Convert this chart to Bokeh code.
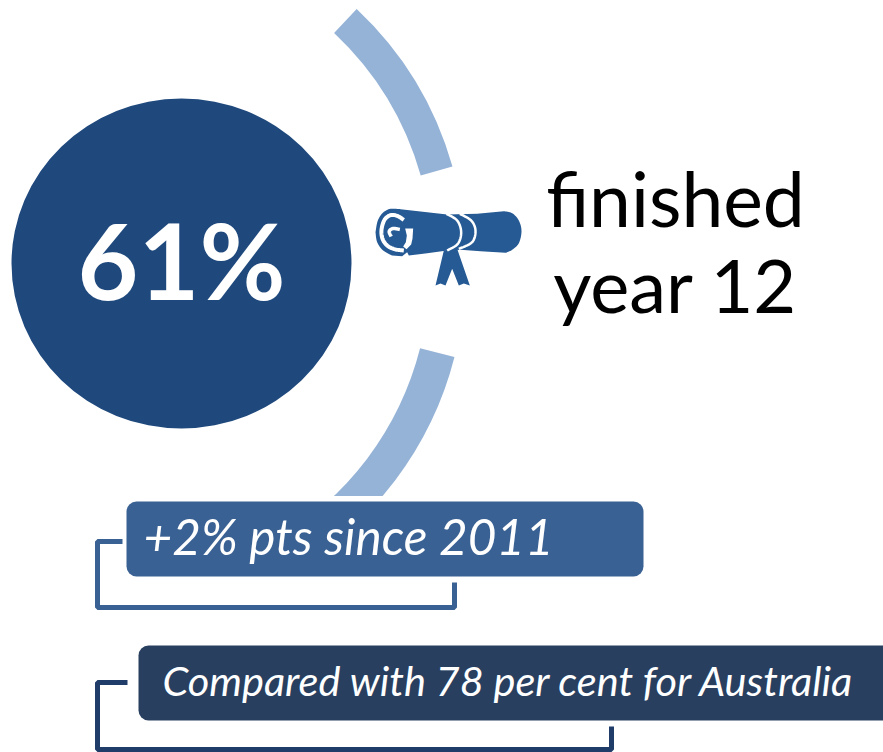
from bokeh.plotting import figure
from bokeh.models import Range1d
from bokeh.core.properties import value
from bokeh.embed import file_html
from bokeh.resources import INLINE
import math

share_label = "61%"
headline = ["finished", "year 12"]
note_labels = ["+2% pts since 2011", "Compared with 78 per cent for Australia"]

NAVY = "#1f497d"; ARC = "#95b3d7"; ICON = "#255a94"; BOX1 = "#3a6193"; BOX2 = "#283f60"; LINE2 = "#1f3d68"

p = figure(width=883, height=752, output_backend="svg", toolbar_location=None,
           x_range=Range1d(0, 883), y_range=Range1d(752, 0), min_border=0, outline_line_color=None)
p.xaxis.visible = False
p.yaxis.visible = False
p.grid.visible = False

p.annular_wedge(x=[120], y=[260], inner_radius=312, outer_radius=345,
                start_angle=[math.radians(15.8)], end_angle=[math.radians(46.8)],
                fill_color=ARC, line_color=None)
p.annular_wedge(x=[120], y=[272], inner_radius=309, outer_radius=344.5,
                start_angle=[math.radians(-60)], end_angle=[math.radians(-14.2)],
                fill_color=ARC, line_color=None)
p.quad(left=[300], right=[420], top=[495.5], bottom=[560], fill_color="white", line_color=None)

p.ellipse(x=[181], y=[263], width=[340], height=[330], fill_color=NAVY, line_color=None)
p.text(x=[181], y=[258], text=[share_label], text_font=value("Lato"), text_font_style="bold",
       text_font_size="105px", text_color="white", text_align="center", text_baseline="middle")

for t, yy, fs in zip(headline, [197, 284], ["75px", "74px"]):
    p.text(x=[675], y=[yy], text=[t], text_font=value("Lato"), text_font_size=fs,
           text_color="black", text_align="center", text_baseline="alphabetic")

# Diploma icon outlines
def smooth(xs, ys, closed=False, n=8):
    pts = list(zip(xs, ys))
    m = len(pts)
    out_x, out_y = [], []
    for i in range(m if closed else m - 1):
        g = (lambda k: pts[k % m]) if closed else (lambda k: pts[max(0, min(m - 1, k))])
        p0, p1, p2, p3 = g(i - 1), g(i), g(i + 1), g(i + 2)
        for j in range(n):
            t = j / n
            for c, o in ((0, out_x), (1, out_y)):
                o.append(0.5 * (2 * p1[c] + (p2[c] - p0[c]) * t
                                + (2 * p0[c] - 5 * p1[c] + 4 * p2[c] - p3[c]) * t * t
                                + (3 * p1[c] - p0[c] - 3 * p2[c] + p3[c]) * t ** 3))
    if not closed:
        out_x.append(pts[-1][0]); out_y.append(pts[-1][1])
    return out_x, out_y

def ax(v): return [360 + a / 3 for a in v]
def ay(v): return [190 + a / 3 for a in v]
def bx(v): return [370 + a / 3 for a in v]
def by(v): return [200 + a / 3 for a in v]
def cx(v): return [430 + a / 3 for a in v]
def cy(v): return [205 + a / 3 for a in v]

ribbon_x = [40, 15, 30, 45, 65, 85, 100, 118, 80]
ribbon_y = [135, 240, 234, 240, 190, 240, 234, 240, 130]
p.patch(cx(ribbon_x), cy(ribbon_y), fill_color=ICON, line_color=None)

body_top_x, body_top_y = smooth(ax([45, 52, 68, 90, 120]), ay([125, 90, 66, 55, 56]))
body_right_x, body_right_y = smooth(ax([430, 455, 475, 483, 475, 455, 435]), ay([62, 68, 90, 122, 158, 178, 187]))
body_left_x, body_left_y = smooth(ax([95, 68, 50, 45]), ay([195, 180, 155, 125]))
px = body_top_x + ax([260, 350]) + body_right_x + ax([360, 300, 260, 200, 145, 140, 125]) + body_left_x
py = body_top_y + ay([72, 70]) + body_right_y + ay([182, 178, 180, 188, 195, 185, 197]) + body_left_y
p.patch(px, py, fill_color=ICON, line_color=None)

# curl of the scroll
cw_x, cw_y = smooth(bx([100, 80, 60, 42, 33, 36, 50, 72, 100]), by([58, 46, 44, 58, 88, 115, 135, 146, 150]))
p.line(cw_x, cw_y, line_color="white", line_width=4)
p.patch(bx([104, 128, 126, 122, 108, 98, 106, 109]), by([84, 84, 115, 132, 146, 138, 125, 105]),
        fill_color="white", line_color=None)
ci_x, ci_y = smooth(bx([62, 56, 62, 72, 88]), by([108, 94, 86, 84, 87]))
p.line(ci_x, ci_y, line_color="white", line_width=3.5)

b1x, b1y = smooth(cx([48, 80, 92, 82, 50]), cy([25, 45, 80, 115, 135]))
b2x, b2y = smooth(cx([88, 122, 135, 125, 85]), cy([25, 45, 75, 110, 130]))
p.line(b1x, b1y, line_color="white", line_width=2.5)
p.line(b2x, b2y, line_color="white", line_width=2.5)

p.quad(left=[126], right=[643], top=[501], bottom=[576], fill_color=BOX1, line_color=None, border_radius=10)
p.quad(left=[138], right=[900], top=[645], bottom=[720], fill_color=BOX2, line_color=None, border_radius=10)
p.line([122, 97, 97, 454, 454], [541, 541, 607, 607, 582], line_color=BOX1, line_width=5)
p.line([127, 97, 97, 611, 611], [682, 682, 749, 749, 726], line_color=LINE2, line_width=5)

p.text(x=[143], y=[535], text=[note_labels[0]], text_font=value("Lato"), text_font_style="italic",
       text_font_size="49.5px", text_color="white", text_baseline="alphabetic")
p.text(x=[162], y=[679], text=[note_labels[1]], text_font=value("Lato"), text_font_style="italic",
       text_font_size="41.5px", text_color="white", text_baseline="alphabetic")

open("out.html", "w").write(file_html(p, INLINE))
